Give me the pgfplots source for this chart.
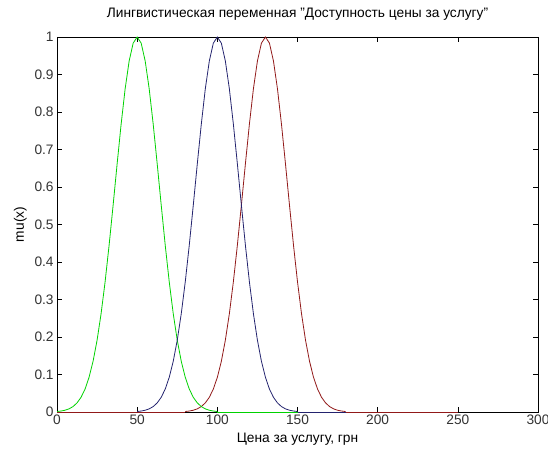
\documentclass[border=0pt]{standalone}
\usepackage{fontspec}
\setmainfont{Liberation Sans}
\usepackage{pgfplots}
\usepackage{pgfplotstable}
\pgfplotsset{compat=1.18}
\definecolor{mgreen}{RGB}{0,210,0}
\definecolor{mblue}{RGB}{35,35,110}
\definecolor{mred}{RGB}{145,25,25}
\pgfplotstableread{
d mu
-50 0.0013
-47.5 0.0026
-45 0.0047
-42.5 0.0084
-40 0.0145
-37.5 0.0243
-35 0.0392
-32.5 0.0612
-30 0.0925
-27.5 0.1353
-25 0.1915
-22.5 0.2622
-20 0.3472
-17.5 0.4449
-15 0.5516
-12.5 0.6615
-10 0.7676
-7.5 0.8618
-5 0.9360
-2.5 0.9836
0 1.0000
2.5 0.9836
5 0.9360
7.5 0.8618
10 0.7676
12.5 0.6615
15 0.5516
17.5 0.4449
20 0.3472
22.5 0.2622
25 0.1915
27.5 0.1353
30 0.0925
32.5 0.0612
35 0.0392
37.5 0.0243
40 0.0145
42.5 0.0084
45 0.0047
47.5 0.0026
50 0.0013
}\profile
\begin{document}
\begin{tikzpicture}
\path[use as bounding box] (-42.75pt,-30.75pt) rectangle (368.25pt,309pt);
\begin{axis}[
  scale only axis,
  width=360.75pt, height=281.25pt,
  xmin=0, xmax=300, ymin=0, ymax=1,
  xtick={0,50,...,300},
  ytick={0,0.1,...,1},
  yticklabels={0,0.1,0.2,0.3,0.4,0.5,0.6,0.7,0.8,0.9,1},
  tick align=inside,
  major tick length=3.75pt,
  axis line style={line width=0.6pt},
  tick style={line width=0.5pt, black},
  font=\fontsize{10.3pt}{12pt}\selectfont,
  ticklabel style={font=\fontsize{10.3pt}{12pt}\selectfont, text=black!80},
  xticklabel style={yshift=1pt},
  yticklabel style={xshift=1pt},
  /pgf/number format/assume math mode=true,
  title={Лингвистическая переменная "Доступность цены за услугу"},
  title style={at={(0.5,1)}, anchor=south, yshift=3pt},
  xlabel={Цена за услугу, грн},
  ylabel={mu(x)},
  xlabel style={yshift=1pt},
  ylabel style={yshift=-1pt},
  every axis plot/.append style={line width=0.6pt},
]
% red: zero segments and curve centred at 130
\addplot[mred] coordinates {(0,0) (80,0)};
\addplot[mred] table[x expr=\thisrow{d}+130, y=mu] {\profile};
\addplot[mred] coordinates {(180,0) (250,0)};
% green: curve centred at 50 and zero segment
\addplot[mgreen] table[x expr=\thisrow{d}+50, y=mu] {\profile};
\addplot[mgreen] coordinates {(100,0) (150,0)};
% blue: curve centred at 100 and zero segment
\addplot[mblue] table[x expr=\thisrow{d}+100, y=mu] {\profile};
\addplot[mblue] coordinates {(150,0) (180,0)};
\end{axis}
\end{tikzpicture}
\end{document}
